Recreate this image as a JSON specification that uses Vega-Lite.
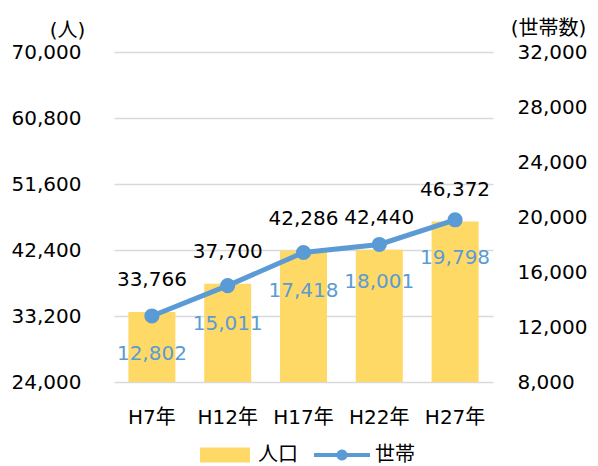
{
  "$schema": "https://vega.github.io/schema/vega-lite/v6.json",
  "width": 379,
  "height": 330,
  "autosize": {"type": "none"},
  "padding": {"left": 114, "top": 52, "right": 105, "bottom": 84},
  "background": "white",
  "config": {
    "font": "DejaVu Sans, Noto Sans CJK JP",
    "view": {"stroke": null},
    "axis": {"labelColor": "#000000", "titleColor": "#000000", "labelFontSize": 20, "titleFontSize": 20, "titleFontWeight": "normal", "ticks": false, "domain": false, "gridColor": "#D9D9D9", "gridWidth": 1.5},
    "legend": {"labelFontSize": 20, "labelColor": "#000000", "padding": 0}
  },
  "data": {
    "values": [
      {"year": "H7年", "pop": 33766, "hh": 12802},
      {"year": "H12年", "pop": 37700, "hh": 15011},
      {"year": "H17年", "pop": 42286, "hh": 17418},
      {"year": "H22年", "pop": 42440, "hh": 18001},
      {"year": "H27年", "pop": 46372, "hh": 19798}
    ]
  },
  "encoding": {
    "x": {
      "field": "year", "type": "nominal", "sort": null,
      "scale": {"paddingInner": 0.38, "paddingOuter": 0.19},
      "axis": {"title": null, "labelAngle": 0, "labelPadding": 25, "grid": false}
    }
  },
  "layer": [
    {
      "encoding": {
        "y": {
          "field": "pop", "type": "quantitative",
          "scale": {"domain": [24000, 70000], "zero": false, "nice": false},
          "axis": {
            "values": [24000, 33200, 42400, 51600, 60800, 70000], "format": ",d", "grid": true,
            "labelPadding": 33, "title": "(人)", "titleAngle": 0, "titleX": -47, "titleY": -22,
            "titleAlign": "center", "titleBaseline": "middle"
          }
        }
      },
      "layer": [
        {
          "mark": {"type": "bar"},
          "encoding": {
            "y2": {"datum": 24000},
            "fill": {
              "datum": "人口", "type": "nominal",
              "scale": {"range": ["#FFD966"]},
              "legend": {"title": null, "orient": "none", "legendX": 86, "legendY": 378, "symbolType": "M-1,-0.3H1V0.3H-1Z", "symbolSize": 2500, "symbolStrokeWidth": 0, "labelOffset": 8}
            }
          }
        },
        {
          "mark": {"type": "text", "dy": -32, "fontSize": 20, "color": "#000000", "baseline": "middle"},
          "encoding": {"text": {"field": "pop", "type": "quantitative", "format": ",d"}}
        }
      ]
    },
    {
      "encoding": {
        "y": {
          "field": "hh", "type": "quantitative",
          "scale": {"domain": [8000, 32000], "zero": false, "nice": false},
          "axis": {
            "orient": "right", "values": [8000, 12000, 16000, 20000, 24000, 28000, 32000], "format": ",d", "grid": false,
            "labelPadding": 24, "title": "(世帯数)", "titleAngle": 0, "titleX": 55, "titleY": -24,
            "titleAlign": "center", "titleBaseline": "middle"
          }
        }
      },
      "layer": [
        {
          "mark": {"type": "line", "strokeWidth": 5},
          "encoding": {
            "stroke": {
              "datum": "世帯", "type": "nominal",
              "scale": {"range": ["#5B9BD5"]},
              "legend": {
                "title": null, "orient": "none", "legendX": 200, "legendY": 375,
                "symbolType": "M-1,-0.07H-0.187A0.2,0.2 0 0 1 0.187,-0.07H1V0.07H0.187A0.2,0.2 0 0 1 -0.187,0.07H-1Z",
                "symbolSize": 3136, "symbolStrokeWidth": 0, "symbolFillColor": "#5B9BD5", "labelOffset": 5,
                "encode": {"symbols": {"update": {"fill": {"value": "#5B9BD5"}, "strokeWidth": {"value": 0}}}}
              }
            }
          }
        },
        {
          "mark": {"type": "point", "filled": true, "size": 230, "color": "#5B9BD5", "opacity": 1}
        },
        {
          "mark": {"type": "text", "dy": 38, "fontSize": 20, "color": "#5B9BD5", "baseline": "middle"},
          "encoding": {"text": {"field": "hh", "type": "quantitative", "format": ",d"}}
        }
      ]
    }
  ],
  "resolve": {"scale": {"y": "independent"}}
}
